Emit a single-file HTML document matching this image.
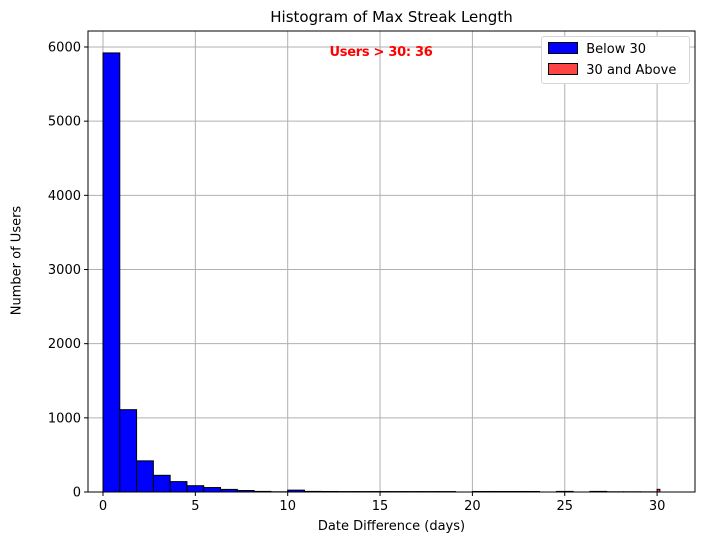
<!DOCTYPE html>
<html><head><meta charset="utf-8"><style>
body{margin:0;background:#fff;font-family:"Liberation Sans","DejaVu Sans",sans-serif}
</style></head><body>
<svg id="c" width="704" height="545" xmlns="http://www.w3.org/2000/svg" font-family="DejaVu Sans, Liberation Sans, sans-serif"></svg>
<script>
const blueCounts=[5920,1110,420,225,140,85,60,35,20,8,3,25,8,7,6,6,6,6,6,6,6,0,7,7,7,7,0,8,0,8,3,3,2];
const binWidth=10/11;
const redStart=[30];
const redCounts=[36];
const redWidth=0.15;
const xTicks=[0,5,10,15,20,25,30];
const yTicks=[0,1000,2000,3000,4000,5000,6000];
const L=88,R=695,T=31,B=492;
const X0=103,PX=18.47,YS=445/6000;
const sx=v=>X0+v*PX, sy=v=>B-v*YS;
const svg=document.getElementById('c');const NS='http://www.w3.org/2000/svg';
function mk(t,a,p){const e=document.createElementNS(NS,t);for(const k in a)e.setAttribute(k,a[k]);(p||svg).appendChild(e);return e;}
const grid=mk('g',{});


xTicks.forEach(v=>{mk('line',{x1:sx(v),x2:sx(v),y1:T,y2:B,stroke:'#b0b0b0','stroke-width':1},grid);});
yTicks.forEach(v=>{mk('line',{x1:L,x2:R,y1:sy(v),y2:sy(v),stroke:'#b0b0b0','stroke-width':1},grid);});
blueCounts.forEach((c,i)=>{if(!c)return;const x=sx(i*binWidth),w=binWidth*PX;
const r=mk('rect',{x:x,y:sy(c),width:w,height:B-sy(c),fill:'#0000ff',stroke:'#000','stroke-width':1});

});
redCounts.forEach((c,i)=>{const x=sx(redStart[i]);
const r=mk('rect',{x:x,y:sy(c),width:redWidth*PX,height:B-sy(c),fill:'#ff4444',stroke:'#000','stroke-width':1});

});
const frame=mk('rect',{x:L,y:T,width:R-L,height:B-T,fill:'none',stroke:'#000','stroke-width':1});


xTicks.forEach(v=>{mk('line',{x1:sx(v),x2:sx(v),y1:B,y2:B+4,stroke:'#000'});
const t=mk('text',{x:sx(v),y:B+18,'text-anchor':'middle','font-size':13});t.textContent=v;

});
yTicks.forEach(v=>{mk('line',{x1:L-4,x2:L,y1:sy(v),y2:sy(v),stroke:'#000'});
const t=mk('text',{x:L-7,y:sy(v)+4.5,'text-anchor':'end','font-size':13});t.textContent=v;

});
</script>
<div style="position:absolute;left:0;top:0;width:704px;height:545px;pointer-events:none;font-family:'DejaVu Sans','Liberation Sans',sans-serif">
<div style="position:absolute;left:88px;width:607px;top:8px;text-align:center;font-size:15px">Histogram of Max Streak Length</div>
<div style="position:absolute;left:88px;width:607px;top:519px;text-align:center;font-size:13px">Date Difference (days)</div>
<div style="position:absolute;left:-48px;top:253px;width:130px;text-align:center;font-size:13px;transform:rotate(-90deg)">Number of Users</div>
<div style="position:absolute;left:300px;width:170px;top:45px;text-align:center;font-size:13px;font-weight:bold;color:#ff0000;letter-spacing:-0.3px"><span style="position:relative;left:-4px">Users &gt; 30: 36</span></div>
<div style="position:absolute;left:541px;top:36px;width:147px;height:46px;background:#fff;border:1px solid #d6d6d6;border-radius:3px;font-size:13px">
<div style="position:absolute;left:6px;top:5px;white-space:nowrap"><span style="display:inline-block;width:28px;height:10px;background:#00f;border:1px solid #000;vertical-align:-1px"></span>&nbsp; Below 30</div>
<div style="position:absolute;left:6px;top:26px;white-space:nowrap"><span style="display:inline-block;width:28px;height:10px;background:#ff4444;border:1px solid #000;vertical-align:-1px"></span>&nbsp; 30 and Above</div>
</div>
</div>
</body></html>
